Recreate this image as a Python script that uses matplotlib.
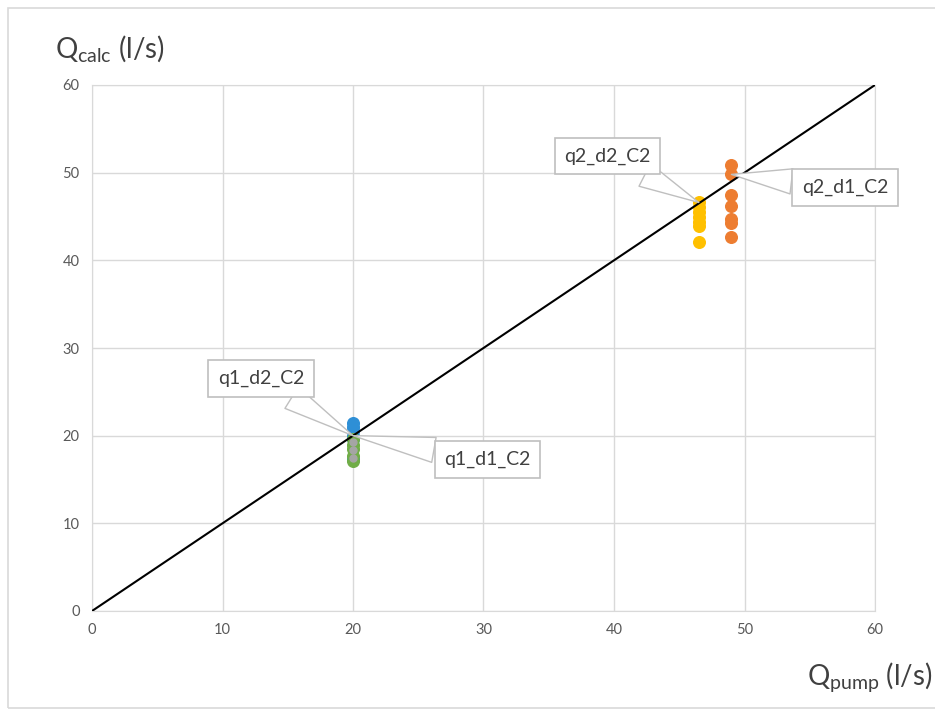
import matplotlib.pyplot as plt
from matplotlib.patches import Rectangle

plt.rcParams['font.family'] = ['Lato', 'DejaVu Sans']
plt.rcParams['mathtext.fontset'] = 'custom'
plt.rcParams['mathtext.rm'] = 'Lato'
plt.rcParams['mathtext.it'] = 'Lato'

# q1 cluster (Qpump = 20 l/s)
q1_blue_x = [20.0, 20.0, 20.0, 20.0, 20.0, 20.0]
q1_blue_y = [21.4, 21.0, 20.5, 20.0, 19.6, 17.3]
q1_green_x = [20.0, 20.0, 20.0, 20.0, 20.0]
q1_green_y = [19.6, 18.9, 18.5, 17.7, 17.1]
q1_grey_x = [20.0, 20.0, 20.0]
q1_grey_y = [19.3, 18.4, 17.5]

# q2 clusters
q2_d1_x = [49.0] * 7
q2_d1_y = [50.9, 49.8, 47.4, 46.2, 44.7, 44.3, 42.7]
q2_d2_x = [46.5] * 7
q2_d2_y = [46.6, 46.1, 45.5, 44.9, 44.4, 43.9, 42.1]

line_x = [0, 60]
line_y = [0, 60]

ticks = [0, 10, 20, 30, 40, 50, 60]

fig = plt.figure(figsize=(9.35, 7.11), dpi=100)
fig.patches.append(Rectangle((8 / 935, 3 / 711), 1.0, 700 / 711, transform=fig.transFigure,
                             fill=False, edgecolor='#d9d9d9', linewidth=1.2))
ax = fig.add_axes([92 / 935, 1 - 611 / 711, (875 - 92) / 935, (611 - 85) / 711])

ax.grid(True, color='#d9d9d9', linewidth=1)
ax.set_axisbelow(True)
for s in ax.spines.values():
    s.set_color('#d9d9d9')
ax.set_xlim(0, 60)
ax.set_ylim(0, 60)
ax.set_xticks(ticks)
ax.set_yticks(ticks)
ax.tick_params(length=0, labelsize=10.5, labelcolor='#595959', pad=9)

ms = 70
ax.scatter(q2_d2_x, q2_d2_y, s=ms, color='#ffc000', zorder=3)
ax.scatter(q2_d1_x, q2_d1_y, s=ms, color='#ed7d31', zorder=3)
ax.scatter(q1_blue_x, q1_blue_y, s=ms, color='#2e8fd6', zorder=3)
ax.scatter(q1_green_x, q1_green_y, s=ms, color='#70ad47', zorder=4)
ax.scatter(q1_grey_x, q1_grey_y, s=25, color='#a5a5a5', zorder=5)
ax.plot(line_x, line_y, color='black', linewidth=1.5, zorder=6)

box = dict(boxstyle='square,pad=0.5', fc='white', ec='#bfbfbf', lw=1.2)
arrow = dict(arrowstyle='wedge,tail_width=1.3', fc='white', ec='#bfbfbf', lw=1.0, shrinkA=0, shrinkB=0)
lab_kw = dict(fontsize=14, color='#404040', ha='center', va='center', bbox=box, arrowprops=arrow, zorder=7)
ax.annotate('q1_d2_C2', xy=(20, 20), xytext=(12.95, 26.5), **lab_kw)
ax.annotate('q1_d1_C2', xy=(20, 20), xytext=(30.3, 17.3), **lab_kw)
ax.annotate('q2_d2_C2', xy=(46.5, 46.6), xytext=(39.5, 51.9), **lab_kw)
ax.annotate('q2_d1_C2', xy=(49.0, 49.8), xytext=(57.7, 48.3), **lab_kw)

fig.text(55 / 935, 1 - 48 / 711, r'Q$_{\mathrm{calc}}$ (l/s)', fontsize=20, color='#404040',
         ha='left', va='center')
fig.text(933 / 935, 1 - 677 / 711, r'Q$_{\mathrm{pump}}$ (l/s)', fontsize=20, color='#404040',
         ha='right', va='center')

fig.savefig('out.png', dpi=100)
